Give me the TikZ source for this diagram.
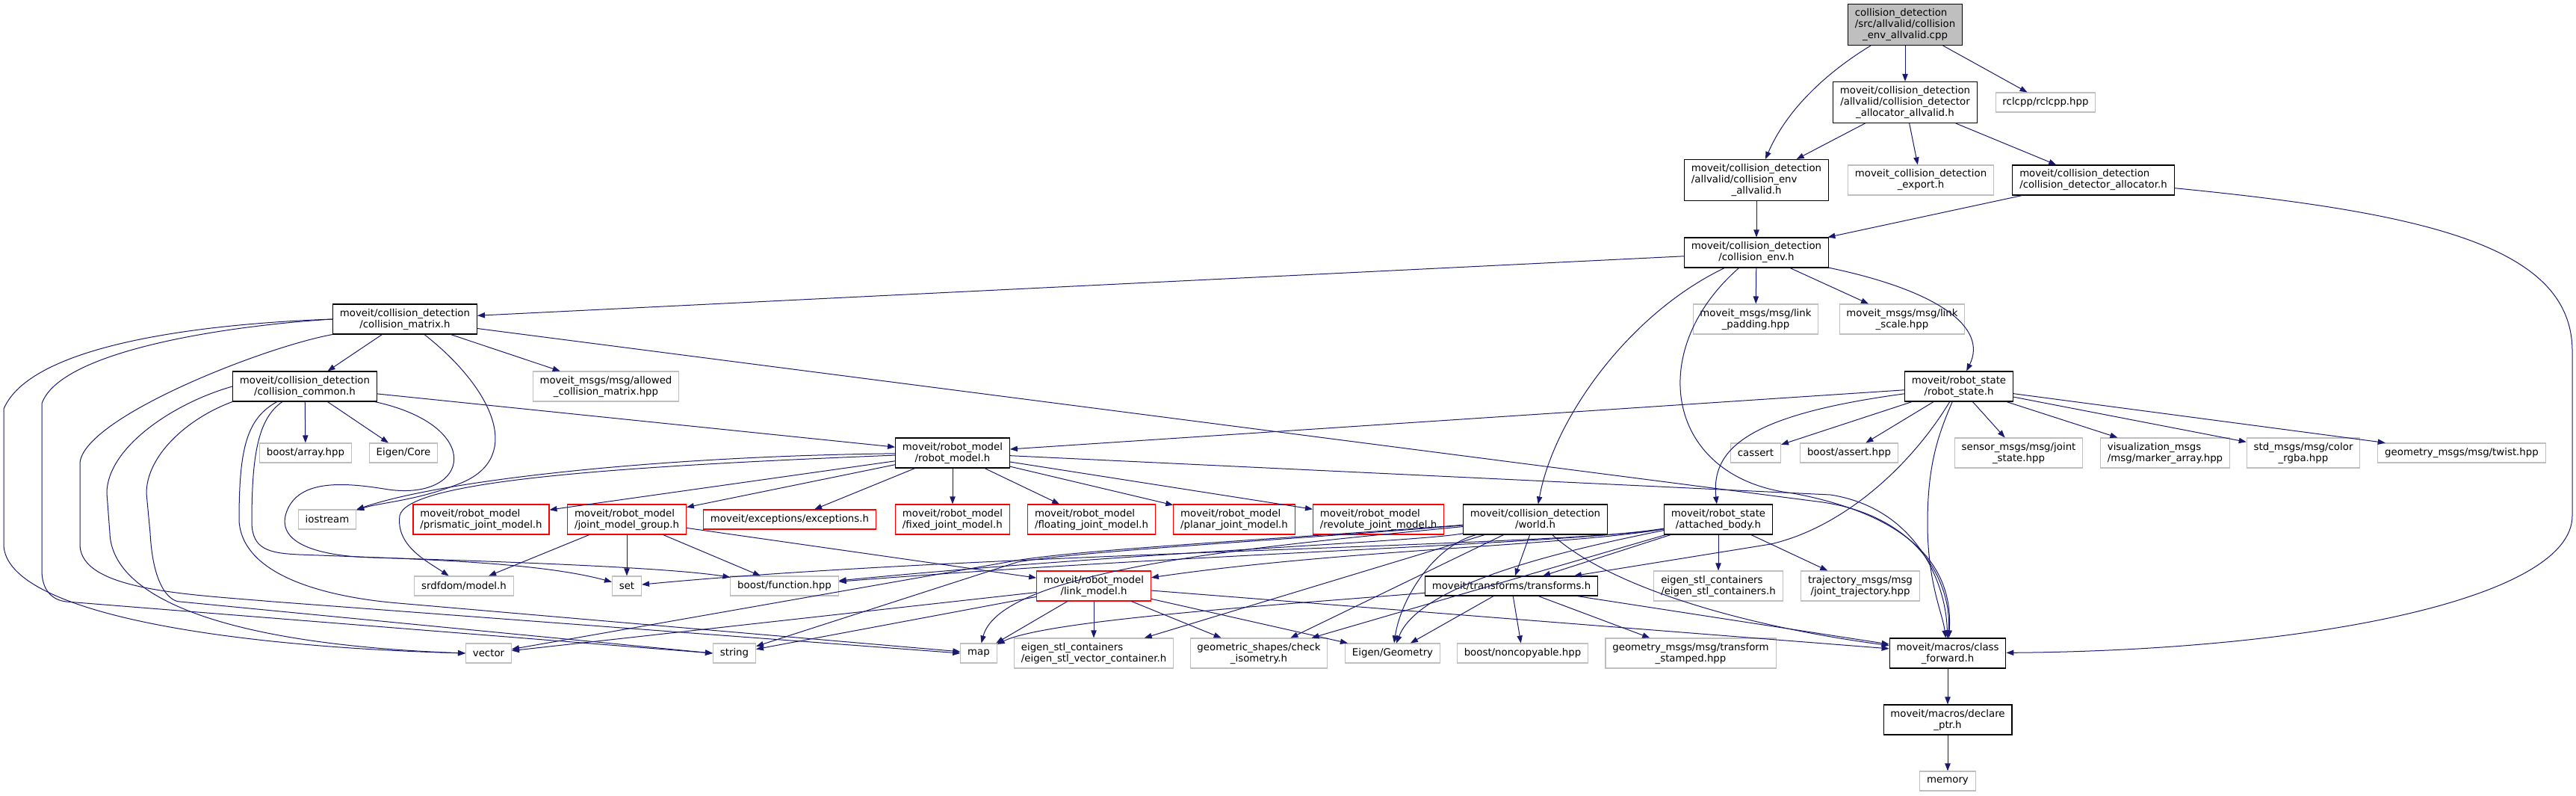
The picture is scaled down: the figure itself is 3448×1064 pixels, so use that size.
\documentclass[tikz,border=0pt]{standalone}
\usepackage{fontspec}
\setmainfont{DejaVu Sans}
\usetikzlibrary{arrows.meta}
\definecolor{edgeblue}{RGB}{25,25,112}
\definecolor{extgray}{RGB}{191,191,191}
% first line kept left, under a longer second line
\newcommand{\keepleft}[2]{\rlap{#1}\phantom{#2}}

\begin{document}
\begin{tikzpicture}[
    x=0.75pt, y=-0.75pt,
    box/.style={draw=black, line width=0.8pt, fill=white, align=center, inner xsep=7pt, inner ysep=1pt,
        minimum height=19.5pt, font=\fontsize{10}{11.25}\selectfont},
    rootbox/.style={box, fill=extgray},
    extbox/.style={box, draw=extgray},
    redbox/.style={box, draw=red},
    twoline/.style={minimum height=30pt},
    threeline/.style={minimum height=41.25pt},
    dep/.style={draw=edgeblue, line width=0.75pt, -{Triangle[length=7.5pt,width=5.5pt]}}
]
\useasboundingbox (0,0) rectangle (3448,1064);

% top of the graph
\node[rootbox, threeline] (root) at (2550,33) {\keepleft{collision\_detection}{/src/allvalid/collision}\\/src/allvalid/collision\\\_env\_allvalid.cpp};
\node[box, threeline] (allocav) at (2550,137) {moveit/collision\_detection\\/allvalid/collision\_detector\\\_allocator\_allvalid.h};
\node[extbox] (rclcpp) at (2738,137) {rclcpp/rclcpp.hpp};
\node[box, threeline] (envav) at (2351,241) {moveit/collision\_detection\\\keepleft{/allvalid/collision\_env}{moveit/collision\_detection}\\\_allvalid.h};
\node[extbox, twoline] (export) at (2571,241) {moveit\_collision\_detection\\\_export.h};
\node[box, twoline, align=left] (detalloc) at (2802,241) {moveit/collision\_detection\\/collision\_detector\_allocator.h};
\node[box, twoline] (cenv) at (2351,338) {moveit/collision\_detection\\/collision\_env.h};
\node[extbox, twoline] (padding) at (2350,427) {moveit\_msgs/msg/link\\\_padding.hpp};
\node[extbox, twoline] (scale) at (2546,427) {moveit\_msgs/msg/link\\\_scale.hpp};

% collision matrix and common
\node[box, twoline] (matrix) at (542,427) {moveit/collision\_detection\\/collision\_matrix.h};
\node[box, twoline] (common) at (408,517) {moveit/collision\_detection\\/collision\_common.h};
\node[extbox, twoline] (allowed) at (811,517) {moveit\_msgs/msg/allowed\\\_collision\_matrix.hpp};
\node[extbox] (array) at (409,606) {boost/array.hpp};
\node[extbox] (ecore) at (540,606) {Eigen/Core};

% robot state
\node[box, twoline] (rstate) at (2622,517) {moveit/robot\_state\\/robot\_state.h};
\node[extbox] (cassert) at (2350,606) {cassert};
\node[extbox] (bassert) at (2475,606) {boost/assert.hpp};
\node[extbox, twoline] (jstate) at (2702,606) {sensor\_msgs/msg/joint\\\_state.hpp};
\node[extbox, twoline, align=left] (marker) at (2898,606) {visualization\_msgs\\/msg/marker\_array.hpp};
\node[extbox, twoline] (color) at (3083,606) {std\_msgs/msg/color\\\_rgba.hpp};
\node[extbox] (twist) at (3295,606) {geometry\_msgs/msg/twist.hpp};

% robot model
\node[box, twoline] (rmodel) at (1275,606) {moveit/robot\_model\\/robot\_model.h};
\node[extbox] (iostream) at (438,695) {iostream};
\node[redbox, twoline, align=left] (prismatic) at (644,695) {moveit/robot\_model\\/prismatic\_joint\_model.h};
\node[redbox, twoline, align=left] (jmg) at (839,695) {moveit/robot\_model\\/joint\_model\_group.h};
\node[redbox] (exceptions) at (1057,695) {moveit/exceptions/exceptions.h};
\node[redbox, twoline, align=left] (fixed) at (1275,695) {moveit/robot\_model\\/fixed\_joint\_model.h};
\node[redbox, twoline, align=left] (floating) at (1461,695) {moveit/robot\_model\\/floating\_joint\_model.h};
\node[redbox, twoline, align=left] (planar) at (1652,695) {moveit/robot\_model\\/planar\_joint\_model.h};
\node[redbox, twoline, align=left] (revolute) at (1845,695) {moveit/robot\_model\\/revolute\_joint\_model.h};
\node[box, twoline] (world) at (2055,695) {moveit/collision\_detection\\/world.h};
\node[box, twoline] (abody) at (2300,695) {moveit/robot\_state\\/attached\_body.h};

\node[extbox] (srdf) at (621,784) {srdfdom/model.h};
\node[extbox] (set) at (839,784) {set};
\node[extbox] (bfunc) at (1050,784) {boost/function.hpp};
\node[redbox, twoline] (lmodel) at (1464,784) {moveit/robot\_model\\/link\_model.h};
\node[box] (transforms) at (2023,784) {moveit/transforms/transforms.h};
\node[extbox, twoline, align=left] (eigstl) at (2300,784) {eigen\_stl\_containers\\/eigen\_stl\_containers.h};
\node[extbox, twoline] (traj) at (2490,784) {trajectory\_msgs/msg\\/joint\_trajectory.hpp};

% bottom row
\node[extbox] (vector) at (654,874) {vector};
\node[extbox] (string) at (983,874) {string};
\node[extbox] (map) at (1310,874) {map};
\node[extbox, twoline, align=left] (eigvec) at (1464,874) {eigen\_stl\_containers\\/eigen\_stl\_vector\_container.h};
\node[extbox, twoline] (isometry) at (1685,874) {geometric\_shapes/check\\\_isometry.h};
\node[extbox] (egeom) at (1864,874) {Eigen/Geometry};
\node[extbox] (noncopy) at (2038,874) {boost/noncopyable.hpp};
\node[extbox, twoline] (tstamped) at (2263,874) {geometry\_msgs/msg/transform\\\_stamped.hpp};
\node[box, twoline] (cfwd) at (2607,874) {moveit/macros/class\\\_forward.h};
\node[box, twoline] (declare) at (2607,963) {moveit/macros/declare\\\_ptr.h};
\node[extbox] (memory) at (2607,1045) {memory};

% allvalid part
\draw[dep] (root) .. controls (2440,100) and (2390,150) .. (envav);
\draw[dep] (root) -- (allocav);
\draw[dep] (root) -- (rclcpp);
\draw[dep] (allocav) -- (envav);
\draw[dep] (allocav) -- (export);
\draw[dep] (allocav) -- (detalloc);
\draw[dep] (envav) -- (cenv);
\draw[dep] (detalloc) -- (cenv);
\draw[dep] (detalloc) .. controls (3250,285) and (3443,330) .. (3443,470) -- (3443,690) .. controls (3443,800) and (3100,870) .. (cfwd);

% collision_env.h
\draw[dep] (cenv) -- (matrix);
\draw[dep] (cenv) -- (padding);
\draw[dep] (cenv) -- (scale);
\draw[dep] (cenv) .. controls (2600,390) and (2660,440) .. (rstate);
\draw[dep] (cenv) .. controls (2180,420) and (2080,560) .. (world);
\draw[dep] (cenv) .. controls (2200,470) and (2230,640) .. (2400,660) .. controls (2560,690) and (2615,760) .. (cfwd);

% collision_matrix.h
\draw[dep] (matrix) -- (common);
\draw[dep] (matrix) -- (allowed);
\draw[dep] (matrix) .. controls (660,520) and (700,610) .. (620,645) .. controls (560,670) and (510,672) .. (iostream);
\draw[dep] (matrix) -- (2440,672) .. controls (2560,690) and (2612,770) .. (cfwd);
\draw[dep] (matrix.west) .. controls (250,434) and (40,465) .. (5,547) -- (5,730) .. controls (10,820) and (300,865) .. (vector.west);
\draw[dep] (matrix.west) .. controls (300,436) and (80,470) .. (56,540) -- (56,763) .. controls (56,790) and (70,803) .. (89,805) -- (string.west);
\draw[dep] (matrix.south west) .. controls (350,465) and (110,560) .. (107,620) -- (107,730) .. controls (110,790) and (250,795) .. (366,805) -- (map.west);

% collision_common.h
\draw[dep] (common) -- (array);
\draw[dep] (common) -- (ecore);
\draw[dep] (common) -- (rmodel);
\draw[dep] (common.west) .. controls (230,540) and (143,600) .. (143,660) -- (147,713) .. controls (150,800) and (300,862) .. (vector.west);
\draw[dep] (common.south west) .. controls (250,560) and (196,610) .. (196,660) -- (201,713) .. controls (205,790) and (230,805) .. (241,805) -- (string.west);
\draw[dep] (common) .. controls (330,560) and (320,600) .. (320,697) .. controls (325,775) and (450,800) .. (533,807) -- (map);
\draw[dep] (common) .. controls (345,560) and (337,610) .. (337,700) .. controls (338,735) and (360,740) .. (400,742) .. controls (560,748) and (720,752) .. (set);
\draw[dep] (common) .. controls (650,570) and (630,670) .. (520,655) .. controls (460,645) and (395,640) .. (382,690) .. controls (372,735) and (450,745) .. (500,746) .. controls (700,752) and (900,760) .. (bfunc);

% robot_model.h
\draw[dep] (rmodel) .. controls (900,610) and (600,640) .. (iostream);
\draw[dep] (rmodel) .. controls (800,625) and (545,645) .. (535,690) .. controls (530,730) and (570,750) .. (srdf);
\draw[dep] (rmodel) -- (prismatic);
\draw[dep] (rmodel) -- (jmg);
\draw[dep] (rmodel) -- (exceptions);
\draw[dep] (rmodel) -- (fixed);
\draw[dep] (rmodel) -- (floating);
\draw[dep] (rmodel) -- (planar);
\draw[dep] (rmodel) -- (revolute);
\draw[dep] (rmodel) -- (2450,662) .. controls (2565,680) and (2605,780) .. (cfwd);
\draw[dep] (jmg) -- (srdf);
\draw[dep] (jmg) -- (set);
\draw[dep] (jmg) -- (bfunc);
\draw[dep] (jmg) -- (lmodel);

% robot_state.h
\draw[dep] (rstate) -- (rmodel);
\draw[dep] (rstate) -- (cassert);
\draw[dep] (rstate) -- (bassert);
\draw[dep] (rstate) -- (jstate);
\draw[dep] (rstate) -- (marker);
\draw[dep] (rstate) -- (color);
\draw[dep] (rstate) -- (twist);
\draw[dep] (rstate) .. controls (2340,555) and (2290,600) .. (abody);
\draw[dep] (rstate) .. controls (2560,620) and (2470,705) .. (2370,728) -- (transforms);
\draw[dep] (rstate) .. controls (2595,580) and (2580,620) .. (2580,700) .. controls (2580,780) and (2600,820) .. (cfwd);

% world.h and attached_body.h
\draw[dep] (world) -- (transforms);
\draw[dep] (world) .. controls (2160,790) and (2350,840) .. (cfwd);
\draw[dep] (world) .. controls (1900,725) and (1500,740) .. (bfunc);
\draw[dep] (world) -- (isometry);
\draw[dep] (world) -- (eigvec);
\draw[dep] (world) .. controls (1920,730) and (1875,800) .. (egeom);
\draw[dep] (world) .. controls (1700,730) and (1340,760) .. (map);
\draw[dep] (world) .. controls (1700,722) and (1450,735) .. (1360,750) -- (vector);
\draw[dep] (world) .. controls (1700,724) and (1450,737) .. (1362,752) -- (string);
\draw[dep] (abody) -- (transforms);
\draw[dep] (abody) -- (eigstl);
\draw[dep] (abody) -- (traj);
\draw[dep] (abody) .. controls (2100,728) and (1600,740) .. (bfunc);
\draw[dep] (abody) .. controls (2100,730) and (1300,740) .. (set);
\draw[dep] (abody) .. controls (2100,730) and (1800,735) .. (lmodel);
\draw[dep] (abody) .. controls (2100,735) and (1900,780) .. (egeom);
\draw[dep] (abody) -- (isometry);

% link_model.h and transforms.h
\draw[dep] (lmodel) -- (map);
\draw[dep] (lmodel) -- (eigvec);
\draw[dep] (lmodel) -- (isometry);
\draw[dep] (lmodel) -- (egeom);
\draw[dep] (lmodel) -- (vector);
\draw[dep] (lmodel) -- (string);
\draw[dep] (lmodel) -- (cfwd);
\draw[dep] (transforms) -- (egeom);
\draw[dep] (transforms) -- (noncopy);
\draw[dep] (transforms) -- (tstamped);
\draw[dep] (transforms) -- (cfwd);
\draw[dep] (transforms) .. controls (1700,810) and (1400,830) .. (map);

% macros
\draw[dep] (cfwd) -- (declare);
\draw[dep] (declare) -- (memory);
\end{tikzpicture}
\end{document}
